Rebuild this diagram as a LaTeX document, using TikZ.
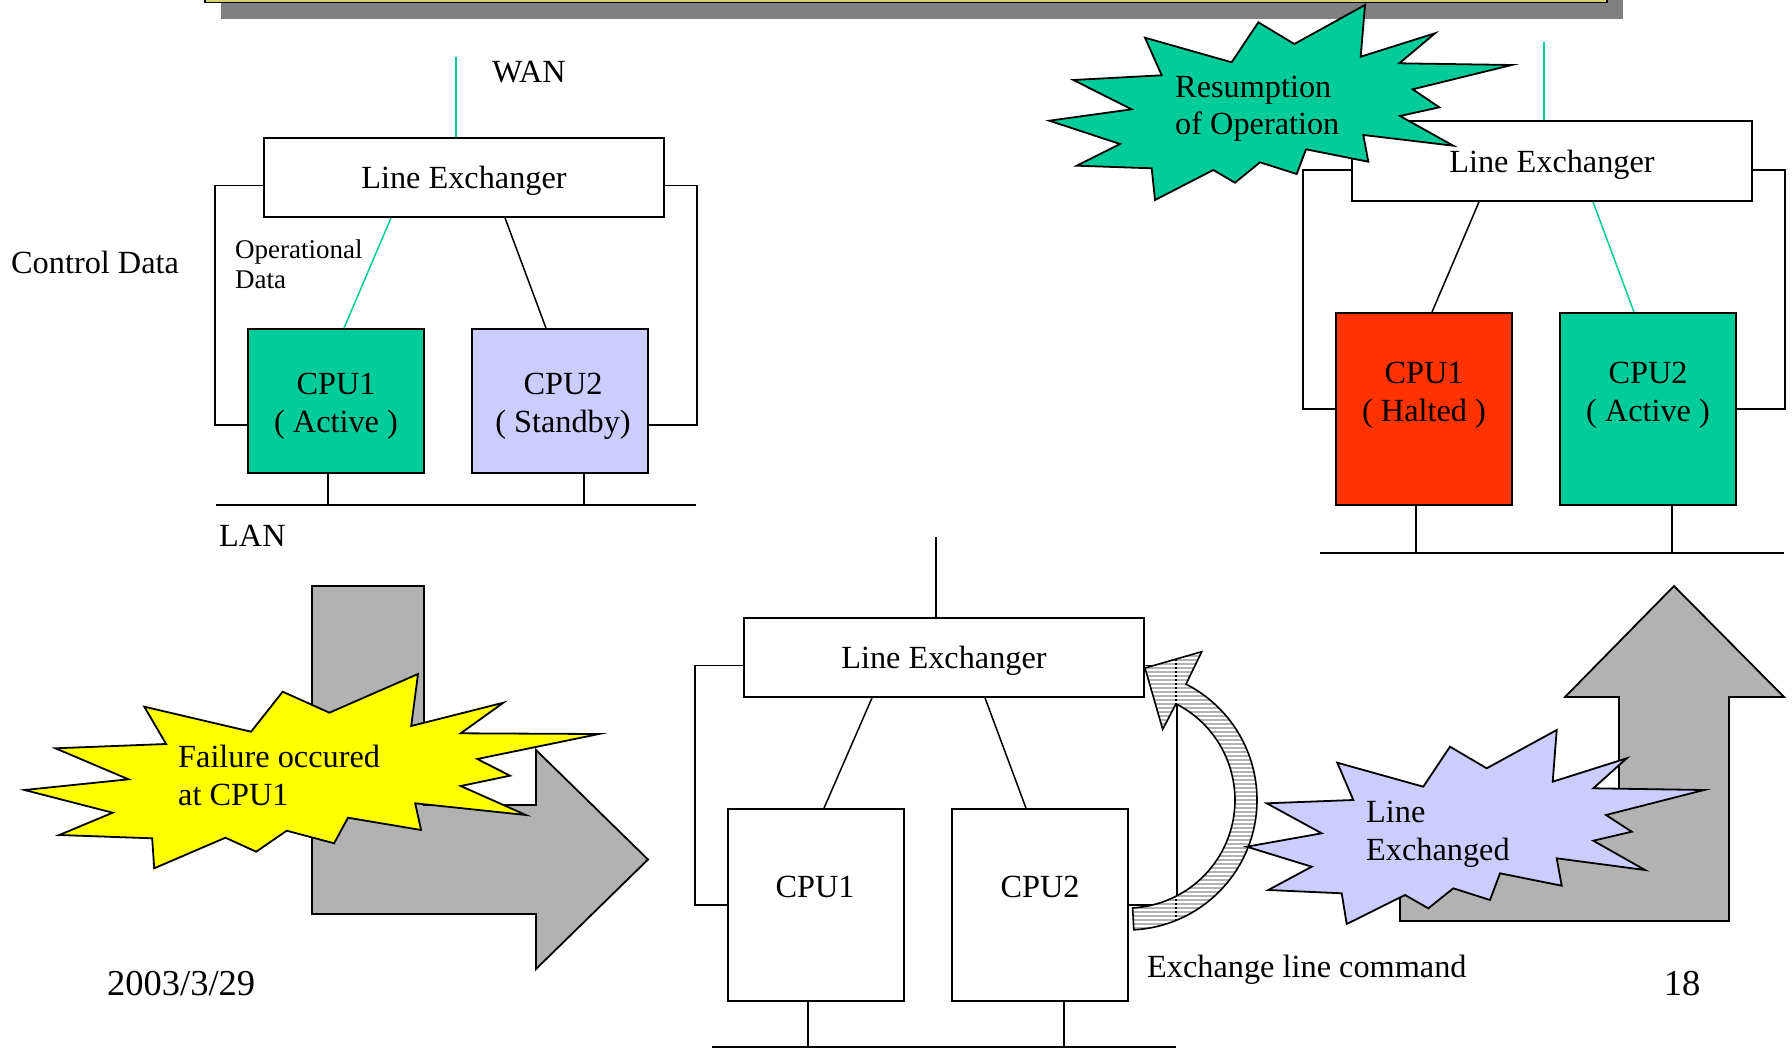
\documentclass[tikz,border=0pt]{standalone}
\usepackage{fontspec}
\setmainfont{Liberation Serif}
\definecolor{opteal}{HTML}{00CC99}
\definecolor{oplav}{HTML}{CCCCFF}
\definecolor{opred}{HTML}{FF3300}
\definecolor{opyellow}{HTML}{FFFF00}
\definecolor{arrowgray}{HTML}{B2B2B2}
\definecolor{shadowgray}{HTML}{808080}
\definecolor{barolive}{HTML}{D4D46A}
\begin{document}
\begin{tikzpicture}[x=1pt,y=-1pt,
  every node/.style={font=\fontsize{32.3}{38}\selectfont, inner sep=0pt},
  conn/.style={line width=1.8pt},
  link/.style={line width=1.5pt},
  datalink/.style={line width=1.5pt, draw=opteal},
  lebox/.style={draw, line width=1.8pt, fill=white, minimum width=400pt,
    minimum height=79pt, text depth=0pt},
  cpubox/.style={draw, line width=1.8pt, minimum width=176pt},
  burst/.style={draw, line width=1.8pt, line join=miter},
  bigarrow/.style={draw, line width=1.8pt, fill=arrowgray, line join=miter},
  lbl/.style={anchor=base west, align=left},
  small/.style={font=\fontsize{27}{30}\selectfont},
  footer/.style={font=\fontsize{36.5}{40}\selectfont}
]
\useasboundingbox (0,0) rectangle (1792,1049);

% title bar with its drop shadow
\fill[shadowgray] (221,-30) rectangle (1623,19);
\draw[line width=1.5pt, fill=barolive] (205,-30) rectangle (1607,2.5);

% bent process arrows
\draw[bigarrow] (312,586) -- (424,586) -- (424,805) -- (536,805) -- (536,750)
  -- (648,859.5) -- (536,969) -- (536,914) -- (312,914) -- cycle;
\draw[bigarrow] (1400,789) -- (1619,789) -- (1619,697) -- (1565,697)
  -- (1674,586) -- (1784,697) -- (1729,697) -- (1729,921) -- (1400,921) -- cycle;

% ---------- normal operation ----------
\coordinate (wanA) at (456,57);
\node[lebox] (leA) at (464,177.5) {Line Exchanger};
\node[cpubox, fill=opteal, minimum height=144pt] (cpuA1) at (336,401) {};
\node[cpubox, fill=oplav, minimum height=144pt] (cpuA2) at (560,401) {};
\node[align=center] (cpuA1t) at (336,406) {CPU1\\( Active )};
\node[align=center] (cpuA2t) at (563,406) {CPU2\\( Standby)};
\draw[datalink] (wanA) -- (wanA |- leA.north);
\draw[conn] ([yshift=-8pt]leA.west) -| ([xshift=-32pt,yshift=-24pt]cpuA1.west)
  -- ([yshift=-24pt]cpuA1.west);
\draw[conn] ([yshift=-8pt]leA.east) -| ([xshift=48pt,yshift=-24pt]cpuA2.east)
  -- ([yshift=-24pt]cpuA2.east);
\draw[datalink] ([xshift=-73pt]leA.south) -- ([xshift=8pt]cpuA1.north);
\draw[link] ([xshift=41pt]leA.south) -- ([xshift=-14pt]cpuA2.north);
\coordinate (lanAw) at (216,505);
\coordinate (lanAe) at (696,505);
\draw[conn] (lanAw) -- (lanAe);
\draw[conn] ([xshift=-8pt]cpuA1.south) -- ++(0,32);
\draw[conn] ([xshift=24pt]cpuA2.south) -- ++(0,32);
\node[lbl] (wanAt) at (492,82) {WAN};
\node[lbl] (lanAt) at (219,546) {LAN};
\node[lbl] (ctrlt) at (11,273) {Control Data};
\node[lbl, small] (opdt) at (235,288) {Operational\\Data};

% ---------- switching over ----------
\coordinate (wanC) at (936,537);
\node[lebox] (leC) at (944,657.5) {Line Exchanger};
\node[cpubox, fill=white, minimum height=192pt] (cpuC1) at (816,905) {};
\node[cpubox, fill=white, minimum height=192pt] (cpuC2) at (1040,905) {};
\node (cpuC1t) at (815,887) {CPU1};
\node (cpuC2t) at (1040,887) {CPU2};
\draw[conn] (wanC) -- (wanC |- leC.north);
\draw[conn] ([yshift=-8pt]leC.west) -| ([xshift=-32pt]cpuC1.west) -- (cpuC1.west);
\draw[conn] ([yshift=-8pt]leC.east) -| ([xshift=48pt]cpuC2.east) -- (cpuC2.east);
\draw[link] ([xshift=-72pt]leC.south) -- ([xshift=8pt]cpuC1.north);
\draw[link] ([xshift=41pt]leC.south) -- ([xshift=-14pt]cpuC2.north);
\coordinate (lanCw) at (712,1047);
\coordinate (lanCe) at (1176,1047);
\draw[conn] (lanCw) -- (lanCe);
\draw[conn] ([xshift=-8pt]cpuC1.south) -- ++(0,46);
\draw[conn] ([xshift=24pt]cpuC2.south) -- ++(0,46);
\node[lbl] (cmdt) at (1147,977) {Exchange line command};

% curved command arrow: grey body with thin white stripes
\begin{scope}
  \clip (1133.8,929.8) arc[start angle=87,end angle=-63,radius=130]
    -- (1201.7,651.7) -- (1145,668) -- (1162.7,729.3) -- (1176,703.8)
    arc[start angle=-63,end angle=87,radius=108] -- cycle;
  \fill[arrowgray] (1120,640) rectangle (1270,940);
  \draw[line width=1.5pt] (1176,640) -- (1176,940);
  \foreach \sy in {642,646,...,938} {
    \draw[white, line width=1.1pt] (1120,\sy) -- (1270,\sy);
  }
\end{scope}
\draw[line width=1.6pt, line join=miter]
  (1133.8,929.8) arc[start angle=87,end angle=-63,radius=130]
  -- (1201.7,651.7) -- (1145,668) -- (1162.7,729.3) -- (1176,703.8)
  arc[start angle=-63,end angle=87,radius=108] -- cycle;

% ---------- after the exchange ----------
\coordinate (wanB) at (1544,42);
\node[lebox, minimum height=80pt] (leB) at (1552,161) {Line Exchanger};
\node[cpubox, fill=opred, minimum height=192pt] (cpuB1) at (1424,409) {};
\node[cpubox, fill=opteal, minimum height=192pt] (cpuB2) at (1648,409) {};
\node[align=center] (cpuB1t) at (1424,395) {CPU1\\( Halted )};
\node[align=center] (cpuB2t) at (1648,395) {CPU2\\( Active )};
\draw[datalink] (wanB) -- (wanB |- leB.north);
\draw[conn] ([yshift=-9pt]leB.west) -| ([xshift=-32pt]cpuB1.west) -- (cpuB1.west);
\draw[conn] ([yshift=-9pt]leB.east) -| ([xshift=48pt]cpuB2.east) -- (cpuB2.east);
\draw[link] ([xshift=-73pt]leB.south) -- ([xshift=8pt]cpuB1.north);
\draw[datalink] ([xshift=41pt]leB.south) -- ([xshift=-14pt]cpuB2.north);
\coordinate (lanBw) at (1320,553);
\coordinate (lanBe) at (1784,553);
\draw[conn] (lanBw) -- (lanBe);
\draw[conn] ([xshift=-8pt]cpuB1.south) -- ++(0,48);
\draw[conn] ([xshift=24pt]cpuB2.south) -- ++(0,48);

% ---------- event bursts ----------
\draw[burst, fill=opteal] (1365,5) -- (1360.7,56.7) -- (1435,33.3) -- (1399.3,63.3)
  -- (1511.7,65) -- (1412.7,89.3) -- (1439.3,107.3) -- (1400,116) -- (1453.3,145.7)
  -- (1363.3,135) -- (1368.3,161.7) -- (1306,149.3) -- (1296.7,174) -- (1260,162.3)
  -- (1235,182.7) -- (1213.3,170) -- (1155,200) -- (1151.7,168.3) -- (1076.7,165.7)
  -- (1120,144) -- (1049.3,120.7) -- (1131.7,109.3) -- (1073.3,80) -- (1161.7,75.3)
  -- (1145,37.7) -- (1231.7,62.3) -- (1258.3,22.3) -- (1294.3,44) -- cycle;
\node[lbl, font=\fontsize{32.3}{37}\selectfont] (resumet) at (1175,135) {Resumption\\of Operation};

\draw[burst, fill=opyellow] (418,674) -- (411.2,726) -- (503.4,702.7) -- (460.7,733.3)
  -- (599,734) -- (477.3,759) -- (510,775.7) -- (460.7,786) -- (525.9,815)
  -- (415.2,803.3) -- (421.1,830) -- (348,817.7) -- (334.1,843.3) -- (286.7,830.7)
  -- (256.2,851.7) -- (225.4,837.7) -- (154.2,868.3) -- (152.2,838.3) -- (59.3,835)
  -- (112.7,812.7) -- (24.5,790) -- (128.5,779.3) -- (55.4,748.3) -- (166.1,744)
  -- (144.3,706.7) -- (251.1,731.7) -- (282.7,691.7) -- (329.4,712.7) -- cycle;
\node[lbl] (failt) at (178,805) {Failure occured\\at CPU1};

\draw[burst, fill=oplav] (1556.7,730) -- (1552.7,781.7) -- (1626.7,758.3) -- (1593.3,788.3)
  -- (1704,790) -- (1606,815) -- (1631.7,831.7) -- (1593.3,840.7) -- (1645,870)
  -- (1556.7,858.3) -- (1561.7,885.7) -- (1500,873.3) -- (1490,900) -- (1453.3,888.3)
  -- (1428.3,908.3) -- (1405,895) -- (1346.7,924) -- (1341.7,893.3) -- (1268.3,890)
  -- (1311.7,866.7) -- (1246.7,846.7) -- (1321.7,833.3) -- (1266.7,803.3) -- (1353.3,800)
  -- (1337.3,762.7) -- (1423.3,786.7) -- (1450,746.7) -- (1486.7,768.3) -- cycle;
\node[lbl] (exchgt) at (1366,860) {Line\\Exchanged};

% footer
\node[lbl, footer] (datet) at (107,995) {2003/3/29};
\node[anchor=base, footer] (paget) at (1682,995) {18};
\end{tikzpicture}
\end{document}
